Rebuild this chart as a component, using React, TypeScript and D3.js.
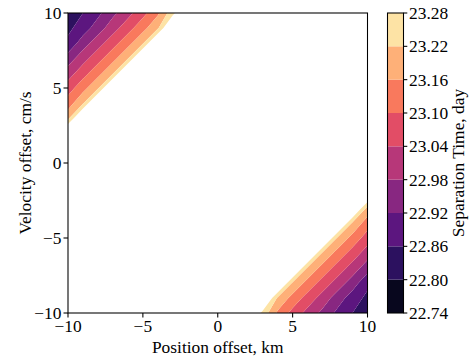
import React from "react";
import * as d3 from "d3";

// ---- data ----
const levels = [22.74, 22.8, 22.86, 22.92, 22.98, 23.04, 23.1, 23.16, 23.22, 23.28];
const positionOffsets = [-10, -9, -8, -7, -6, -5, -4, -3, -2, -1, 0, 1, 2, 3, 4, 5, 6, 7, 8, 9, 10];
const velocityOffsets = [10, 9, 8, 7, 6, 5, 4, 3, 2, 1, 0, -1, -2, -3, -4, -5, -6, -7, -8, -9, -10];
const xTicks = [-10, -5, 0, 5, 10];
const yTicks = [-10, -5, 0, 5, 10];
// separation time (day) in the upper-left corner, rows v = 10 .. 3, starting at x = -10
const upperLeftRows = [
  [22.82, 22.86, 22.905, 22.965, 23.02, 23.08, 23.15, 23.26],
  [22.845, 22.89, 22.95, 23.015, 23.075, 23.14, 23.21],
  [22.875, 22.95, 23.015, 23.075, 23.14, 23.21],
  [22.945, 23.015, 23.075, 23.14, 23.21],
  [23.01, 23.075, 23.14, 23.21],
  [23.07, 23.14, 23.21],
  [23.13, 23.21],
  [23.2],
];
// lower-right corner, rows v = -3 .. -10, ending at x = 10
const lowerRightRows = [
  [23.2],
  [23.21, 23.13],
  [23.21, 23.14, 23.07],
  [23.21, 23.14, 23.075, 23.01],
  [23.21, 23.14, 23.075, 23.015, 22.945],
  [23.21, 23.14, 23.075, 23.015, 22.95, 22.875],
  [23.21, 23.14, 23.075, 23.015, 22.95, 22.89, 22.845],
  [23.26, 23.15, 23.08, 23.02, 22.965, 22.905, 22.86, 22.82],
];
// values in the blank middle lie above the top level
const aboveTopLevel = 23.4;

const W = 474;
const H = 360;
const FONT = "'Liberation Serif', 'Times New Roman', serif";
const FS = 17.4;

export default function App() {
  const n = positionOffsets.length;
  const m = velocityOffsets.length;
  const grid = velocityOffsets.map(() => positionOffsets.map(() => aboveTopLevel));
  upperLeftRows.forEach((row, j) => row.forEach((val, i) => (grid[j][i] = val)));
  const lrStart = velocityOffsets.indexOf(-3);
  lowerRightRows.forEach((row, k) =>
    row.forEach((val, i) => (grid[lrStart + k][n - row.length + i] = val))
  );
  const values = grid.flat();

  const x = d3.scaleLinear().domain([-10, 10]).range([68, 367.5]);
  const y = d3.scaleLinear().domain([-10, 10]).range([313, 13]);
  const cx = d3.scaleLinear().domain([0.5, n - 0.5]).range([positionOffsets[0], positionOffsets[n - 1]]);
  const cy = d3.scaleLinear().domain([0.5, m - 0.5]).range([velocityOffsets[0], velocityOffsets[m - 1]]);
  const path = d3.geoPath(
    d3.geoTransform({
      point(px: number, py: number) {
        (this as any).stream.point(x(cx(px)), y(cy(py)));
      },
    })
  );
  const contours = d3.contours().size([n, m]).thresholds(levels)(values);
  const nb = levels.length - 1;
  const color = (i: number) => d3.interpolateMagma((i + 0.5) / nb);

  const cb = d3.scaleLinear().domain([levels[0], levels[nb]]).range([313, 13]);
  const cbX0 = 387.5;
  const cbX1 = 403.5;
  const fmt = (t: number) => (t < 0 ? `\u2212${Math.abs(t)}` : `${t}`);

  return (
    <svg width={W} height={H} style={{ position: "absolute", left: 0, top: 0 }} fontFamily={FONT}>
      <rect x={0} y={0} width={W} height={H} fill="white" />
      <defs>
        <clipPath id="plotclip">
          <rect x={x(-10)} y={y(10)} width={x(10) - x(-10)} height={y(-10) - y(10)} />
        </clipPath>
      </defs>
      <g clipPath="url(#plotclip)">
        {d3.range(nb).map((i) => (
          <path
            key={i}
            d={(path(contours[i] as any) || "") + (path(contours[i + 1] as any) || "")}
            fill={color(i)}
            fillRule="evenodd"
          />
        ))}
      </g>
      <rect
        x={x(-10)}
        y={y(10)}
        width={x(10) - x(-10)}
        height={y(-10) - y(10)}
        fill="none"
        stroke="black"
        strokeWidth={1.07}
      />
      {xTicks.map((t) => (
        <g key={"x" + t}>
          <line x1={x(t)} x2={x(t)} y1={313} y2={317.5} stroke="black" strokeWidth={1.07} />
          <text x={x(t)} y={332} textAnchor="middle" fontSize={FS}>
            {fmt(t)}
          </text>
        </g>
      ))}
      {yTicks.map((t) => (
        <g key={"y" + t}>
          <line x1={68} x2={63.5} y1={y(t)} y2={y(t)} stroke="black" strokeWidth={1.07} />
          <text x={61.5} y={y(t)} dy="0.35em" textAnchor="end" fontSize={FS}>
            {fmt(t)}
          </text>
        </g>
      ))}
      <text x={x(0)} y={352.5} textAnchor="middle" fontSize={FS}>
        Position offset, km
      </text>
      <text transform={`translate(31,${y(0)}) rotate(-90)`} textAnchor="middle" fontSize={FS}>
        Velocity offset, cm/s
      </text>
      {d3.range(nb).map((i) => (
        <rect
          key={"cb" + i}
          x={cbX0}
          y={cb(levels[i + 1])}
          width={cbX1 - cbX0}
          height={cb(levels[i]) - cb(levels[i + 1])}
          fill={color(i)}
        />
      ))}
      <rect x={cbX0} y={cb(levels[nb])} width={cbX1 - cbX0} height={cb(levels[0]) - cb(levels[nb])} fill="none" stroke="black" strokeWidth={1.07} />
      {levels.map((l) => (
        <g key={"cbt" + l}>
          <line x1={cbX1} x2={cbX1 + 3.8} y1={cb(l)} y2={cb(l)} stroke="black" strokeWidth={1.07} />
          <text x={409} y={cb(l)} dy="0.35em" fontSize={FS}>
            {l.toFixed(2)}
          </text>
        </g>
      ))}
      <text transform={`translate(464,${cb((levels[0] + levels[nb]) / 2)}) rotate(-90)`} textAnchor="middle" fontSize={FS}>
        Separation Time, day
      </text>
    </svg>
  );
}
